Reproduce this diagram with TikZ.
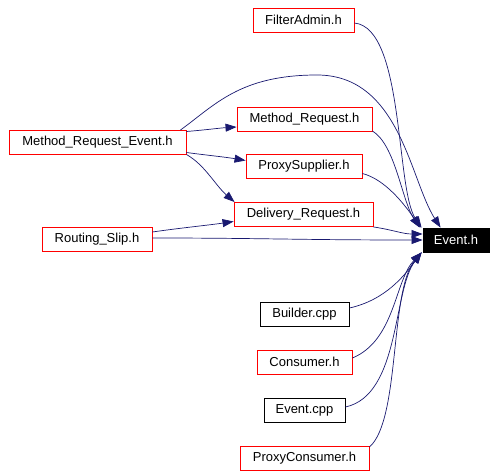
\documentclass[tikz,border=0pt]{standalone}
\usepackage{fontspec}
\setmainfont{Liberation Sans}
\usetikzlibrary{arrows.meta,calc}
\definecolor{edgeblue}{RGB}{25,25,112}
\tikzset{
  filebox/.style={draw=red, line width=0.9pt, fill=white, inner sep=0pt, minimum height=24pt, font=\fontsize{13}{15}\selectfont, text=black},
  blackbox/.style={filebox, draw=black},
  mainbox/.style={filebox, draw=black, fill=black, text=white},
  dep/.style={draw=edgeblue, line width=0.7pt, -{Triangle[length=11pt,width=8pt]}, color=edgeblue}
}
\begin{document}
\begin{tikzpicture}[x=1pt,y=-1pt]
\useasboundingbox (0,0) rectangle (498,476);
\node[filebox, minimum width=101pt] (fa) at (303.5,20) {FilterAdmin.h};
\node[filebox, minimum width=135pt] (mr) at (304.5,119) {Method\_Request.h};
\node[filebox, minimum width=177pt] (mre) at (97.5,142.5) {Method\_Request\_Event.h};
\node[filebox, minimum width=116pt] (ps) at (304,166.5) {ProxySupplier.h};
\node[filebox, minimum width=139pt] (dr) at (303.5,214.5) {Delivery\_Request.h};
\node[filebox, minimum width=110pt] (rs) at (97,239) {Routing\_Slip.h};
\node[mainbox, minimum width=66pt] (ev) at (456,240) {Event.h};
\node[blackbox, minimum width=89pt] (bc) at (304.5,314) {Builder.cpp};
\node[filebox, minimum width=95pt] (co) at (304.5,362) {Consumer.h};
\node[blackbox, minimum width=81pt] (ec) at (304.5,410) {Event.cpp};
\node[filebox, minimum width=129pt] (pc) at (304.5,458) {ProxyConsumer.h};

% edges to Event.h
\draw[dep] ([yshift=-3pt]fa.east) .. controls +(50,5) and ([xshift=-27pt,yshift=38pt]ev.north west) .. ([xshift=-1pt]ev.north west);
\draw[dep] ([xshift=-6pt]mre.north east) .. controls (215,105) and (240,75) .. (317,75) .. controls (400,75) and (410,180) .. ([xshift=18pt]ev.north west);
\draw[dep] ([yshift=-12pt]mr.east) .. controls +(23,14) and ([xshift=-21pt,yshift=28pt]ev.north west) .. ([xshift=-3pt]ev.north west);
\draw[dep] ([yshift=-7pt]ps.east) .. controls +(23,6) and ([xshift=-18pt,yshift=23pt]ev.north west) .. ([xshift=-2pt]ev.north west);
\draw[dep] (dr.south east) .. controls +(20,3) and ([xshift=-20pt,yshift=6pt]ev.west) .. ([yshift=6pt]ev.west);
\draw[dep] ([yshift=1pt]rs.east) .. controls (260,238) and (300,240) .. (ev.west);
\draw[dep] ([yshift=6pt]bc.east) .. controls +(36,-8) and ([xshift=-18pt,yshift=-23pt]ev.south west) .. ([xshift=-1pt]ev.south west);
\draw[dep] ([yshift=4pt]co.east) .. controls +(43,-18) and ([xshift=-28pt,yshift=-28pt]ev.south west) .. ([xshift=-1pt]ev.south west);
\draw[dep] ([yshift=3pt]ec.east) .. controls +(55,-12) and ([xshift=-30pt,yshift=-38pt]ev.south west) .. ([xshift=-1pt]ev.south west);
\draw[dep] ([yshift=11pt]pc.east) .. controls +(31,-27) and ([xshift=-33pt,yshift=-38pt]ev.south west) .. ([xshift=-1pt]ev.south west);

% other edges
\draw[dep] ([yshift=11pt]mre.east) .. controls (205,130) and (220,128) .. ([yshift=-8pt]mr.west);
\draw[dep] ([yshift=-10pt]mre.east) .. controls (205,155) and (225,157) .. ([yshift=6pt]ps.west);
\draw[dep] ([yshift=-12pt]mre.east) .. controls (205,165) and (215,185) .. ([xshift=1pt]dr.north west);
\draw[dep] ([yshift=7pt]rs.east) .. controls (180,228) and (210,225) .. ([yshift=-7pt]dr.west);
\end{tikzpicture}
\end{document}
